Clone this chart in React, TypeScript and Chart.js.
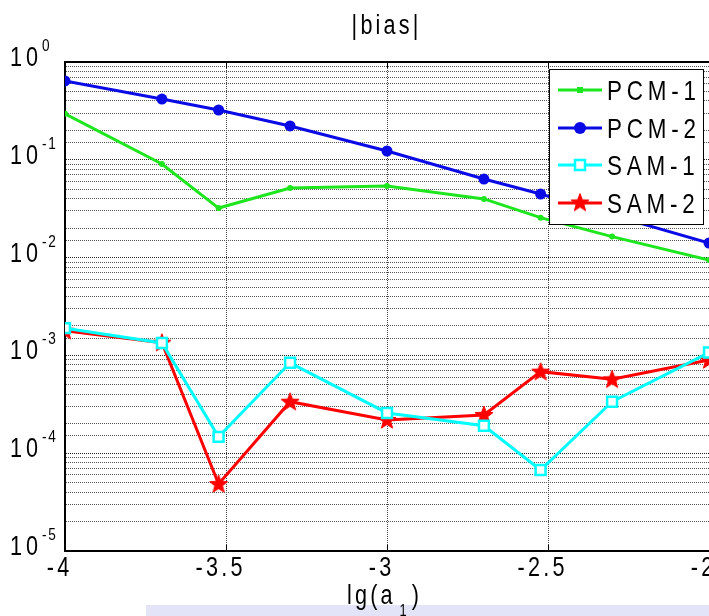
import React, { useEffect, useRef } from "react";
import { Chart, registerables } from "chart.js";

Chart.register(...registerables);

const xValues = [-4, -3.699, -3.523, -3.301, -3, -2.699, -2.523, -2.301, -2];
const pcm1 = [0.296, 0.0906, 0.0321, 0.0515, 0.054, 0.0398, 0.0256, 0.0164, 0.00945];
const pcm2 = [0.64, 0.418, 0.323, 0.222, 0.123, 0.0636, 0.0447, 0.0272, 0.0141];
const sam1 = [1.9e-3, 1.34e-3, 1.47e-4, 8.4e-4, 2.58e-4, 1.91e-4, 6.73e-5, 3.36e-4, 1.07e-3];
const sam2 = [1.79e-3, 1.35e-3, 4.84e-5, 3.36e-4, 2.19e-4, 2.46e-4, 6.82e-4, 5.7e-4, 8.97e-4];
const seriesNames = ["PCM-1", "PCM-2", "SAM-1", "SAM-2"];
const xTickValues = [-4, -3.5, -3, -2.5, -2];
const xTickLabels = ["-4", "-3.5", "-3", "-2.5", "-2"];
const yExponents = [0, -1, -2, -3, -4, -5];
const titleText = "|bias|";

const FONT = '"Liberation Sans", Arial, sans-serif';
const SX = 0.8;
const GREEN = "rgb(30,230,30)";
const BLUE = "#0a0ae6";
const CYAN = "#00ffff";
const RED = "#ff0000";

function starPath(ctx: CanvasRenderingContext2D, cx: number, cy: number, R: number) {
  const r = R * 0.42;
  ctx.beginPath();
  for (let i = 0; i < 10; i++) {
    const rad = i % 2 === 0 ? R : r;
    const a = -Math.PI / 2 + (i * Math.PI) / 5;
    const px = cx + rad * Math.cos(a);
    const py = cy + rad * Math.sin(a);
    if (i === 0) ctx.moveTo(px, py);
    else ctx.lineTo(px, py);
  }
  ctx.closePath();
}

function makeStar(): HTMLCanvasElement {
  const c = document.createElement("canvas");
  c.width = 20;
  c.height = 20;
  const g = c.getContext("2d")!;
  starPath(g, 10, 10.5, 9.5);
  g.fillStyle = RED;
  g.fill();
  g.lineWidth = 1;
  g.strokeStyle = RED;
  g.stroke();
  return c;
}

function narrowText(
  ctx: CanvasRenderingContext2D,
  s: string,
  x: number,
  y: number,
  size: number,
  spacing: number,
  align: "left" | "center" = "left"
): number {
  ctx.save();
  ctx.font = `${size}px ${FONT}`;
  (ctx as any).letterSpacing = `${spacing}px`;
  ctx.textAlign = "left";
  const w = ctx.measureText(s).width - spacing;
  const drawnW = w * SX;
  const startX = align === "center" ? x - drawnW / 2 : x;
  ctx.translate(startX, y);
  ctx.scale(SX, 1);
  ctx.fillText(s, 0, 0);
  ctx.restore();
  return drawnW;
}

export default function App() {
  const ref = useRef<HTMLCanvasElement | null>(null);

  useEffect(() => {
    if (!ref.current) return;
    const star = makeStar();
    const toPts = (arr: number[]) => arr.map((v, i) => ({ x: xValues[i], y: v }));

    const decor = {
      id: "decor",
      beforeDraw(chart: any) {
        const ctx = chart.ctx;
        ctx.save();
        ctx.fillStyle = "#fff";
        ctx.fillRect(0, 0, chart.width, chart.height);
        ctx.fillStyle = "#e4e4f8";
        ctx.fillRect(146, 605, 563, 11);
        ctx.restore();
      },
      afterDatasetsDraw(chart: any) {
        const ctx: CanvasRenderingContext2D = chart.ctx;
        const xs = chart.scales.x;
        const ys = chart.scales.y;
        const area = chart.chartArea;
        ctx.save();
        ctx.strokeStyle = "#000";
        ctx.lineWidth = 2;
        ctx.beginPath();
        ctx.moveTo(area.left, area.top);
        ctx.lineTo(area.right, area.top);
        ctx.stroke();
        ctx.lineWidth = 1;
        xTickValues.forEach((v) => {
          const px = Math.round(xs.getPixelForValue(v)) + 0.5;
          ctx.beginPath();
          ctx.moveTo(px, area.bottom);
          ctx.lineTo(px, area.bottom - 6);
          ctx.moveTo(px, area.top);
          ctx.lineTo(px, area.top + 6);
          ctx.stroke();
        });

        ctx.fillStyle = "#000";
        ctx.textBaseline = "alphabetic";
        narrowText(ctx, titleText, 385, 34, 27, 4, "center");

        yExponents.forEach((e) => {
          const py = ys.getPixelForValue(Math.pow(10, e));
          narrowText(ctx, "10", 10, py + 4, 27, 5);
          narrowText(ctx, e === 0 ? "0" : String(e), 42, py - 11, 17, 2);
        });

        xTickValues.forEach((v, i) => {
          const px = xs.getPixelForValue(v);
          narrowText(ctx, xTickLabels[i], px - 7, 576, 27, 4, "center");
        });

        let cx = 347;
        cx += narrowText(ctx, "lg(a", cx, 604, 27, 4) + 7;
        cx += narrowText(ctx, "1", cx, 616, 16, 0) + 5;
        narrowText(ctx, ")", cx, 604, 27, 0);

        const lx = 549, ly = 69, lw = 154, lh = 155;
        ctx.fillStyle = "#fff";
        ctx.fillRect(lx, ly, lw, lh);
        ctx.strokeStyle = "#000";
        ctx.lineWidth = 1;
        ctx.strokeRect(lx + 0.5, ly + 0.5, lw, lh);
        const rows = [90, 128, 165, 203];
        const colors = [GREEN, BLUE, CYAN, RED];
        rows.forEach((ry, i) => {
          ctx.strokeStyle = colors[i];
          ctx.lineWidth = 3;
          ctx.beginPath();
          ctx.moveTo(558, ry);
          ctx.lineTo(602, ry);
          ctx.stroke();
          const mx = 580;
          if (i === 0) {
            ctx.fillStyle = GREEN;
            ctx.fillRect(mx - 3, ry - 3, 6, 6);
          } else if (i === 1) {
            ctx.fillStyle = BLUE;
            ctx.beginPath();
            ctx.arc(mx, ry, 6, 0, Math.PI * 2);
            ctx.fill();
          } else if (i === 2) {
            ctx.fillStyle = "#fff";
            ctx.fillRect(mx - 5, ry - 5, 10, 10);
            ctx.strokeStyle = CYAN;
            ctx.lineWidth = 2.5;
            ctx.strokeRect(mx - 5, ry - 5, 10, 10);
          } else {
            ctx.drawImage(star, mx - 10, ry - 10.5);
          }
          ctx.fillStyle = "#000";
          narrowText(ctx, seriesNames[i], 607, ry + 10, 28, 6);
        });
        ctx.restore();
      },
    };

    const zeroPad = (s: any) => {
      s.paddingLeft = 0;
      s.paddingRight = 0;
      s.paddingTop = 0;
      s.paddingBottom = 0;
    };

    const chart = new Chart(ref.current, {
      type: "line",
      data: {
        datasets: [
          {
            label: seriesNames[0],
            data: toPts(pcm1),
            borderColor: GREEN,
            backgroundColor: GREEN,
            borderWidth: 3,
            pointStyle: "circle",
            pointRadius: 3,
            pointBorderWidth: 0,
          },
          {
            label: seriesNames[1],
            data: toPts(pcm2),
            borderColor: BLUE,
            backgroundColor: BLUE,
            borderWidth: 3,
            pointStyle: "circle",
            pointRadius: 5.5,
            pointBorderWidth: 0,
          },
          {
            label: seriesNames[2],
            data: toPts(sam1),
            borderColor: CYAN,
            backgroundColor: "#ffffff",
            borderWidth: 3,
            pointStyle: "rect",
            pointRadius: 7,
            pointBorderWidth: 2.5,
          },
          {
            label: seriesNames[3],
            data: toPts(sam2),
            borderColor: RED,
            backgroundColor: RED,
            borderWidth: 3,
            pointStyle: star as any,
            pointRadius: 10,
          },
        ],
      },
      options: {
        responsive: false,
        animation: false,
        layout: { autoPadding: false, padding: { top: 62, right: 0, bottom: 0, left: 0 } },
        plugins: { legend: { display: false }, title: { display: false }, tooltip: { enabled: false } },
        scales: {
          x: {
            type: "linear",
            min: -4,
            max: -2,
            ticks: { stepSize: 0.5, display: false },
            grid: { color: "#444", lineWidth: 1, drawTicks: false },
            border: { display: true, color: "#000", width: 2, dash: [1, 1] },
            afterFit: (s: any) => {
              s.height = 65;
              zeroPad(s);
            },
          },
          y: {
            type: "logarithmic",
            min: 1e-5,
            max: 1,
            ticks: { display: false },
            grid: {
              color: (c: any) => (c.tick && c.tick.major ? "#222" : "#555"),
              lineWidth: 1,
              drawTicks: false,
            },
            border: { display: true, color: "#000", width: 2, dash: [1, 1] },
            afterFit: (s: any) => {
              s.width = 65;
              zeroPad(s);
            },
          },
        },
      },
      plugins: [decor],
    });
    return () => chart.destroy();
  }, []);

  return (
    <div style={{ position: "absolute", left: 0, top: 0, width: 709, height: 616, overflow: "hidden" }}>
      <canvas ref={ref} width={709} height={616} style={{ display: "block" }} />
    </div>
  );
}
